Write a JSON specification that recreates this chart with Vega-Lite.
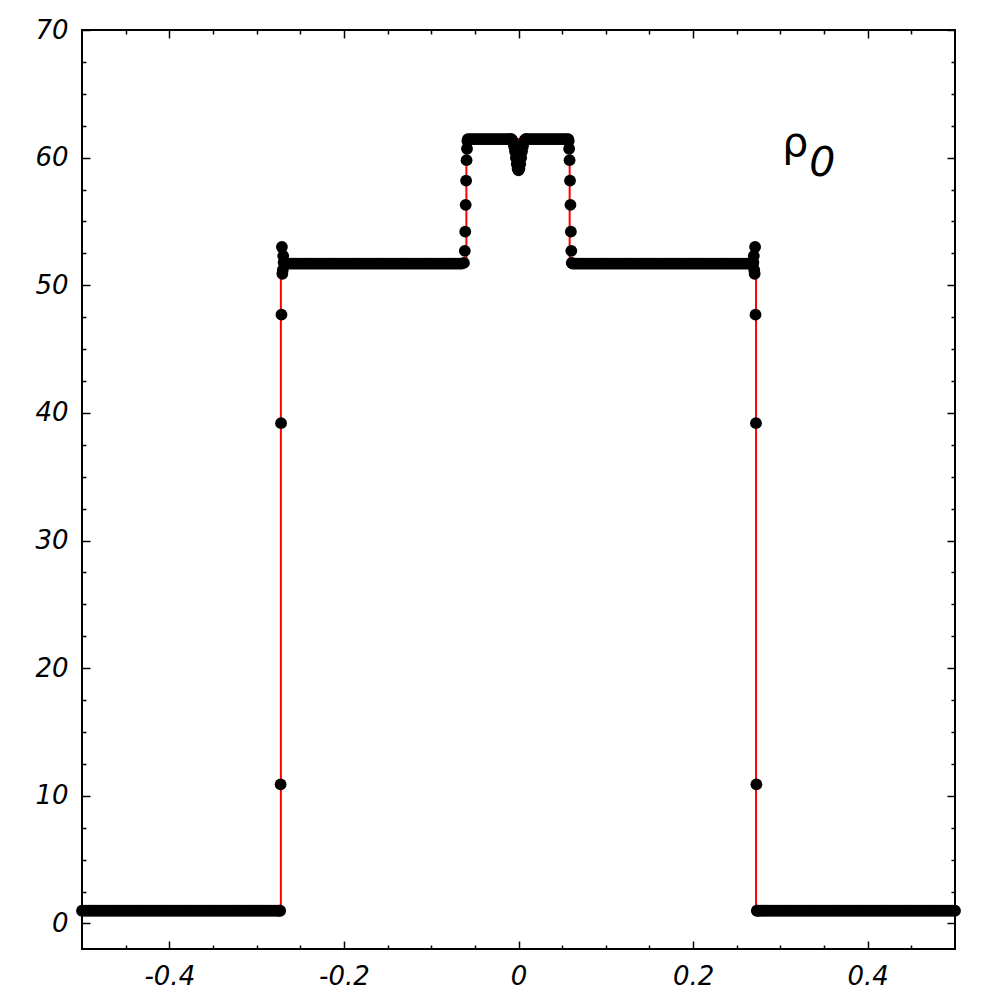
{
 "$schema": "https://vega.github.io/schema/vega-lite/v6.json",
 "width": 873,
 "height": 919,
 "autosize": {"type": "none"},
 "padding": {"left": 82, "top": 30, "right": 45, "bottom": 51},
 "config": {
  "view": {"stroke": "#000", "strokeWidth": 2},
  "axis": {"domain": false, "grid": false, "tickColor": "#000", "tickWidth": 1.5, "labelFont": "DejaVu Sans", "labelFontStyle": "italic", "labelFontSize": 26, "labelColor": "#000"}
 },
 "datasets": {
  "exact": [
   {"i": 0, "x": -0.5, "y": 1.0},
   {"i": 1, "x": -0.2722, "y": 1.0},
   {"i": 2, "x": -0.2722, "y": 51.7},
   {"i": 3, "x": -0.0597, "y": 51.7},
   {"i": 4, "x": -0.0597, "y": 61.45},
   {"i": 5, "x": 0.0586, "y": 61.45},
   {"i": 6, "x": 0.0586, "y": 51.7},
   {"i": 7, "x": 0.2721, "y": 51.7},
   {"i": 8, "x": 0.2721, "y": 1.0},
   {"i": 9, "x": 0.5, "y": 1.0}
  ],
  "numeric": [
   {"x":-0.5,"y":1},{"x":-0.4975,"y":1},{"x":-0.495,"y":1},{"x":-0.4925,"y":1},{"x":-0.49,"y":1},{"x":-0.4875,"y":1},{"x":-0.485,"y":1},{"x":-0.4825,"y":1},{"x":-0.48,"y":1},{"x":-0.4775,"y":1},
   {"x":-0.475,"y":1},{"x":-0.4725,"y":1},{"x":-0.47,"y":1},{"x":-0.4675,"y":1},{"x":-0.465,"y":1},{"x":-0.4625,"y":1},{"x":-0.46,"y":1},{"x":-0.4575,"y":1},{"x":-0.455,"y":1},{"x":-0.4525,"y":1},
   {"x":-0.45,"y":1},{"x":-0.4475,"y":1},{"x":-0.445,"y":1},{"x":-0.4425,"y":1},{"x":-0.44,"y":1},{"x":-0.4375,"y":1},{"x":-0.435,"y":1},{"x":-0.4325,"y":1},{"x":-0.43,"y":1},{"x":-0.4275,"y":1},
   {"x":-0.425,"y":1},{"x":-0.4225,"y":1},{"x":-0.42,"y":1},{"x":-0.4175,"y":1},{"x":-0.415,"y":1},{"x":-0.4125,"y":1},{"x":-0.41,"y":1},{"x":-0.4075,"y":1},{"x":-0.405,"y":1},{"x":-0.4025,"y":1},
   {"x":-0.4,"y":1},{"x":-0.3975,"y":1},{"x":-0.395,"y":1},{"x":-0.3925,"y":1},{"x":-0.39,"y":1},{"x":-0.3875,"y":1},{"x":-0.385,"y":1},{"x":-0.3825,"y":1},{"x":-0.38,"y":1},{"x":-0.3775,"y":1},
   {"x":-0.375,"y":1},{"x":-0.3725,"y":1},{"x":-0.37,"y":1},{"x":-0.3675,"y":1},{"x":-0.365,"y":1},{"x":-0.3625,"y":1},{"x":-0.36,"y":1},{"x":-0.3575,"y":1},{"x":-0.355,"y":1},{"x":-0.3525,"y":1},
   {"x":-0.35,"y":1},{"x":-0.3475,"y":1},{"x":-0.345,"y":1},{"x":-0.3425,"y":1},{"x":-0.34,"y":1},{"x":-0.3375,"y":1},{"x":-0.335,"y":1},{"x":-0.3325,"y":1},{"x":-0.33,"y":1},{"x":-0.3275,"y":1},
   {"x":-0.325,"y":1},{"x":-0.3225,"y":1},{"x":-0.32,"y":1},{"x":-0.3175,"y":1},{"x":-0.315,"y":1},{"x":-0.3125,"y":1},{"x":-0.31,"y":1},{"x":-0.3075,"y":1},{"x":-0.305,"y":1},{"x":-0.3025,"y":1},
   {"x":-0.3,"y":1},{"x":-0.2975,"y":1},{"x":-0.295,"y":1},{"x":-0.2925,"y":1},{"x":-0.29,"y":1},{"x":-0.2875,"y":1},{"x":-0.285,"y":1},{"x":-0.2825,"y":1},{"x":-0.28,"y":1},{"x":-0.2775,"y":1},
   {"x":-0.275,"y":1},{"x":-0.274,"y":1},{"x":-0.273,"y":1},
   {"x":-0.2725,"y":10.9},{"x":-0.272,"y":39.2},{"x":-0.2715,"y":47.7},{"x":-0.271,"y":53.0},
   {"x":-0.2705,"y":50.9},{"x":-0.27,"y":51.2},{"x":-0.2695,"y":52.3},{"x":-0.269,"y":51.8},
   {"x":-0.2675,"y":51.7},{"x":-0.265,"y":51.7},{"x":-0.2625,"y":51.7},{"x":-0.26,"y":51.7},{"x":-0.2575,"y":51.7},{"x":-0.255,"y":51.7},{"x":-0.2525,"y":51.7},{"x":-0.25,"y":51.7},{"x":-0.2475,"y":51.7},{"x":-0.245,"y":51.7},
   {"x":-0.2425,"y":51.7},{"x":-0.24,"y":51.7},{"x":-0.2375,"y":51.7},{"x":-0.235,"y":51.7},{"x":-0.2325,"y":51.7},{"x":-0.23,"y":51.7},{"x":-0.2275,"y":51.7},{"x":-0.225,"y":51.7},{"x":-0.2225,"y":51.7},{"x":-0.22,"y":51.7},
   {"x":-0.2175,"y":51.7},{"x":-0.215,"y":51.7},{"x":-0.2125,"y":51.7},{"x":-0.21,"y":51.7},{"x":-0.2075,"y":51.7},{"x":-0.205,"y":51.7},{"x":-0.2025,"y":51.7},{"x":-0.2,"y":51.7},{"x":-0.1975,"y":51.7},{"x":-0.195,"y":51.7},
   {"x":-0.1925,"y":51.7},{"x":-0.19,"y":51.7},{"x":-0.1875,"y":51.7},{"x":-0.185,"y":51.7},{"x":-0.1825,"y":51.7},{"x":-0.18,"y":51.7},{"x":-0.1775,"y":51.7},{"x":-0.175,"y":51.7},{"x":-0.1725,"y":51.7},{"x":-0.17,"y":51.7},
   {"x":-0.1675,"y":51.7},{"x":-0.165,"y":51.7},{"x":-0.1625,"y":51.7},{"x":-0.16,"y":51.7},{"x":-0.1575,"y":51.7},{"x":-0.155,"y":51.7},{"x":-0.1525,"y":51.7},{"x":-0.15,"y":51.7},{"x":-0.1475,"y":51.7},{"x":-0.145,"y":51.7},
   {"x":-0.1425,"y":51.7},{"x":-0.14,"y":51.7},{"x":-0.1375,"y":51.7},{"x":-0.135,"y":51.7},{"x":-0.1325,"y":51.7},{"x":-0.13,"y":51.7},{"x":-0.1275,"y":51.7},{"x":-0.125,"y":51.7},{"x":-0.1225,"y":51.7},{"x":-0.12,"y":51.7},
   {"x":-0.1175,"y":51.7},{"x":-0.115,"y":51.7},{"x":-0.1125,"y":51.7},{"x":-0.11,"y":51.7},{"x":-0.1075,"y":51.7},{"x":-0.105,"y":51.7},{"x":-0.1025,"y":51.7},{"x":-0.1,"y":51.7},{"x":-0.0975,"y":51.7},{"x":-0.095,"y":51.7},
   {"x":-0.0925,"y":51.7},{"x":-0.09,"y":51.7},{"x":-0.0875,"y":51.7},{"x":-0.085,"y":51.7},{"x":-0.0825,"y":51.7},{"x":-0.08,"y":51.7},{"x":-0.0775,"y":51.7},{"x":-0.075,"y":51.7},{"x":-0.0725,"y":51.7},{"x":-0.07,"y":51.7},
   {"x":-0.0675,"y":51.7},{"x":-0.065,"y":51.7},{"x":-0.0625,"y":51.75},
   {"x":-0.0615,"y":52.7},{"x":-0.061,"y":54.2},{"x":-0.0605,"y":56.3},{"x":-0.06,"y":58.2},
   {"x":-0.0595,"y":59.8},{"x":-0.059,"y":60.7},{"x":-0.0585,"y":61.3},
   {"x":-0.058,"y":61.45},{"x":-0.0555,"y":61.45},{"x":-0.053,"y":61.45},{"x":-0.0505,"y":61.45},{"x":-0.048,"y":61.45},{"x":-0.0455,"y":61.45},{"x":-0.043,"y":61.45},
   {"x":-0.0405,"y":61.45},{"x":-0.038,"y":61.45},{"x":-0.0355,"y":61.45},{"x":-0.033,"y":61.45},{"x":-0.0305,"y":61.45},{"x":-0.028,"y":61.45},{"x":-0.0255,"y":61.45},
   {"x":-0.023,"y":61.45},{"x":-0.0205,"y":61.45},{"x":-0.018,"y":61.45},{"x":-0.0155,"y":61.45},{"x":-0.013,"y":61.45},{"x":-0.0105,"y":61.45},
   {"x":-0.009,"y":61.45},{"x":-0.008,"y":61.45},{"x":-0.007,"y":61.35},{"x":-0.006,"y":61.2},{"x":-0.005,"y":60.9},{"x":-0.004,"y":60.5},{"x":-0.003,"y":60.0},
   {"x":-0.002,"y":59.5},{"x":-0.001,"y":59.15},{"x":0.0,"y":59.0},{"x":0.001,"y":59.15},{"x":0.002,"y":59.5},
   {"x":0.003,"y":60.0},{"x":0.004,"y":60.5},{"x":0.005,"y":60.9},{"x":0.006,"y":61.2},{"x":0.007,"y":61.35},{"x":0.008,"y":61.45},{"x":0.009,"y":61.45},
   {"x":0.0105,"y":61.45},{"x":0.013,"y":61.45},{"x":0.0155,"y":61.45},{"x":0.018,"y":61.45},{"x":0.0205,"y":61.45},{"x":0.023,"y":61.45},
   {"x":0.0255,"y":61.45},{"x":0.028,"y":61.45},{"x":0.0305,"y":61.45},{"x":0.033,"y":61.45},{"x":0.0355,"y":61.45},{"x":0.038,"y":61.45},{"x":0.0405,"y":61.45},
   {"x":0.043,"y":61.45},{"x":0.0455,"y":61.45},{"x":0.048,"y":61.45},{"x":0.0505,"y":61.45},{"x":0.053,"y":61.45},{"x":0.0555,"y":61.45},{"x":0.057,"y":61.45},
   {"x":0.0575,"y":61.3},{"x":0.058,"y":60.7},{"x":0.0585,"y":59.8},{"x":0.059,"y":58.2},
   {"x":0.0595,"y":56.3},{"x":0.06,"y":54.2},{"x":0.0605,"y":52.7},{"x":0.061,"y":51.75},
   {"x":0.062,"y":51.7},{"x":0.0645,"y":51.7},{"x":0.067,"y":51.7},{"x":0.0695,"y":51.7},{"x":0.072,"y":51.7},{"x":0.0745,"y":51.7},{"x":0.077,"y":51.7},{"x":0.0795,"y":51.7},{"x":0.082,"y":51.7},{"x":0.0845,"y":51.7},
   {"x":0.087,"y":51.7},{"x":0.0895,"y":51.7},{"x":0.092,"y":51.7},{"x":0.0945,"y":51.7},{"x":0.097,"y":51.7},{"x":0.0995,"y":51.7},{"x":0.102,"y":51.7},{"x":0.1045,"y":51.7},{"x":0.107,"y":51.7},{"x":0.1095,"y":51.7},
   {"x":0.112,"y":51.7},{"x":0.1145,"y":51.7},{"x":0.117,"y":51.7},{"x":0.1195,"y":51.7},{"x":0.122,"y":51.7},{"x":0.1245,"y":51.7},{"x":0.127,"y":51.7},{"x":0.1295,"y":51.7},{"x":0.132,"y":51.7},{"x":0.1345,"y":51.7},
   {"x":0.137,"y":51.7},{"x":0.1395,"y":51.7},{"x":0.142,"y":51.7},{"x":0.1445,"y":51.7},{"x":0.147,"y":51.7},{"x":0.1495,"y":51.7},{"x":0.152,"y":51.7},{"x":0.1545,"y":51.7},{"x":0.157,"y":51.7},{"x":0.1595,"y":51.7},
   {"x":0.162,"y":51.7},{"x":0.1645,"y":51.7},{"x":0.167,"y":51.7},{"x":0.1695,"y":51.7},{"x":0.172,"y":51.7},{"x":0.1745,"y":51.7},{"x":0.177,"y":51.7},{"x":0.1795,"y":51.7},{"x":0.182,"y":51.7},{"x":0.1845,"y":51.7},
   {"x":0.187,"y":51.7},{"x":0.1895,"y":51.7},{"x":0.192,"y":51.7},{"x":0.1945,"y":51.7},{"x":0.197,"y":51.7},{"x":0.1995,"y":51.7},{"x":0.202,"y":51.7},{"x":0.2045,"y":51.7},{"x":0.207,"y":51.7},{"x":0.2095,"y":51.7},
   {"x":0.212,"y":51.7},{"x":0.2145,"y":51.7},{"x":0.217,"y":51.7},{"x":0.2195,"y":51.7},{"x":0.222,"y":51.7},{"x":0.2245,"y":51.7},{"x":0.227,"y":51.7},{"x":0.2295,"y":51.7},{"x":0.232,"y":51.7},{"x":0.2345,"y":51.7},
   {"x":0.237,"y":51.7},{"x":0.2395,"y":51.7},{"x":0.242,"y":51.7},{"x":0.2445,"y":51.7},{"x":0.247,"y":51.7},{"x":0.2495,"y":51.7},{"x":0.252,"y":51.7},{"x":0.2545,"y":51.7},{"x":0.257,"y":51.7},{"x":0.2595,"y":51.7},
   {"x":0.262,"y":51.7},{"x":0.2645,"y":51.7},{"x":0.267,"y":51.7},{"x":0.2685,"y":51.7},
   {"x":0.269,"y":51.8},{"x":0.2695,"y":52.3},{"x":0.27,"y":51.2},{"x":0.2705,"y":50.9},{"x":0.271,"y":53.0},
   {"x":0.2715,"y":47.7},{"x":0.272,"y":39.2},{"x":0.2725,"y":10.9},{"x":0.273,"y":1},
   {"x":0.274,"y":1},{"x":0.275,"y":1},{"x":0.2775,"y":1},{"x":0.28,"y":1},{"x":0.2825,"y":1},{"x":0.285,"y":1},{"x":0.2875,"y":1},{"x":0.29,"y":1},{"x":0.2925,"y":1},{"x":0.295,"y":1},{"x":0.2975,"y":1},
   {"x":0.3,"y":1},{"x":0.3025,"y":1},{"x":0.305,"y":1},{"x":0.3075,"y":1},{"x":0.31,"y":1},{"x":0.3125,"y":1},{"x":0.315,"y":1},{"x":0.3175,"y":1},{"x":0.32,"y":1},{"x":0.3225,"y":1},
   {"x":0.325,"y":1},{"x":0.3275,"y":1},{"x":0.33,"y":1},{"x":0.3325,"y":1},{"x":0.335,"y":1},{"x":0.3375,"y":1},{"x":0.34,"y":1},{"x":0.3425,"y":1},{"x":0.345,"y":1},{"x":0.3475,"y":1},
   {"x":0.35,"y":1},{"x":0.3525,"y":1},{"x":0.355,"y":1},{"x":0.3575,"y":1},{"x":0.36,"y":1},{"x":0.3625,"y":1},{"x":0.365,"y":1},{"x":0.3675,"y":1},{"x":0.37,"y":1},{"x":0.3725,"y":1},
   {"x":0.375,"y":1},{"x":0.3775,"y":1},{"x":0.38,"y":1},{"x":0.3825,"y":1},{"x":0.385,"y":1},{"x":0.3875,"y":1},{"x":0.39,"y":1},{"x":0.3925,"y":1},{"x":0.395,"y":1},{"x":0.3975,"y":1},
   {"x":0.4,"y":1},{"x":0.4025,"y":1},{"x":0.405,"y":1},{"x":0.4075,"y":1},{"x":0.41,"y":1},{"x":0.4125,"y":1},{"x":0.415,"y":1},{"x":0.4175,"y":1},{"x":0.42,"y":1},{"x":0.4225,"y":1},
   {"x":0.425,"y":1},{"x":0.4275,"y":1},{"x":0.43,"y":1},{"x":0.4325,"y":1},{"x":0.435,"y":1},{"x":0.4375,"y":1},{"x":0.44,"y":1},{"x":0.4425,"y":1},{"x":0.445,"y":1},{"x":0.4475,"y":1},
   {"x":0.45,"y":1},{"x":0.4525,"y":1},{"x":0.455,"y":1},{"x":0.4575,"y":1},{"x":0.46,"y":1},{"x":0.4625,"y":1},{"x":0.465,"y":1},{"x":0.4675,"y":1},{"x":0.47,"y":1},{"x":0.4725,"y":1},
   {"x":0.475,"y":1},{"x":0.4775,"y":1},{"x":0.48,"y":1},{"x":0.4825,"y":1},{"x":0.485,"y":1},{"x":0.4875,"y":1},{"x":0.49,"y":1},{"x":0.4925,"y":1},{"x":0.495,"y":1},{"x":0.4975,"y":1},
   {"x":0.5,"y":1}
  ],
  "symbol": [{"label": "ρ", "x": 0.302, "y": 60.1}],
  "subscript": [{"label": "0", "x": 0.333, "y": 58.6}]
 },
 "layer": [
  {
   "data": {"name": "exact"},
   "mark": {"type": "line", "color": "#ff0000", "strokeWidth": 2},
   "encoding": {
    "x": {"field": "x", "type": "quantitative", "title": null,
          "scale": {"domain": [-0.5, 0.5], "nice": false, "zero": false},
          "axis": {"orient": "bottom", "values": [-0.4, -0.2, 0, 0.2, 0.4], "tickSize": -8, "labelPadding": 22,
                   "labelExpr": "replace(format(datum.value, '.1~f'), '−', '-')"}},
    "y": {"field": "y", "type": "quantitative", "title": null,
          "scale": {"domain": [-2, 70], "nice": false, "zero": false},
          "axis": {"orient": "left", "values": [0, 10, 20, 30, 40, 50, 60, 70], "tickSize": -8, "labelPadding": 22}},
    "order": {"field": "i", "type": "quantitative"}
   }
  },
  {
   "data": {"name": "numeric"},
   "mark": {"type": "point", "shape": "circle", "filled": true, "color": "#000", "opacity": 1, "size": 140},
   "encoding": {
    "x": {"field": "x", "type": "quantitative", "title": null,
          "scale": {"domain": [-0.5, 0.5], "nice": false, "zero": false},
          "axis": {"orient": "bottom", "values": [-0.45, -0.35, -0.3, -0.25, -0.15, -0.1, -0.05, 0.05, 0.1, 0.15, 0.25, 0.3, 0.35, 0.45], "tickSize": -4, "labels": false}},
    "y": {"field": "y", "type": "quantitative", "title": null,
          "scale": {"domain": [-2, 70], "nice": false, "zero": false},
          "axis": {"orient": "left", "values": [2.5, 5, 7.5, 12.5, 15, 17.5, 22.5, 25, 27.5, 32.5, 35, 37.5, 42.5, 45, 47.5, 52.5, 55, 57.5, 62.5, 65, 67.5], "tickSize": -4, "labels": false}}
   }
  },
  {
   "data": {"name": "symbol"},
   "mark": {"type": "text", "font": "DejaVu Sans", "fontSize": 41, "align": "left", "baseline": "alphabetic", "color": "#000"},
   "encoding": {
    "x": {"field": "x", "type": "quantitative", "title": null,
          "scale": {"domain": [-0.5, 0.5], "nice": false, "zero": false},
          "axis": {"orient": "top", "values": [-0.4, -0.2, 0, 0.2, 0.4], "tickSize": -8, "labels": false}},
    "y": {"field": "y", "type": "quantitative", "title": null,
          "scale": {"domain": [-2, 70], "nice": false, "zero": false},
          "axis": {"orient": "right", "values": [0, 10, 20, 30, 40, 50, 60, 70], "tickSize": -8, "labels": false}},
    "text": {"field": "label"}
   }
  },
  {
   "data": {"name": "subscript"},
   "mark": {"type": "text", "font": "DejaVu Sans", "fontSize": 41, "fontStyle": "italic", "align": "left", "baseline": "alphabetic", "color": "#000"},
   "encoding": {
    "x": {"field": "x", "type": "quantitative", "title": null,
          "scale": {"domain": [-0.5, 0.5], "nice": false, "zero": false},
          "axis": {"orient": "top", "values": [-0.45, -0.35, -0.3, -0.25, -0.15, -0.1, -0.05, 0.05, 0.1, 0.15, 0.25, 0.3, 0.35, 0.45], "tickSize": -4, "labels": false}},
    "y": {"field": "y", "type": "quantitative", "title": null,
          "scale": {"domain": [-2, 70], "nice": false, "zero": false},
          "axis": {"orient": "right", "values": [2.5, 5, 7.5, 12.5, 15, 17.5, 22.5, 25, 27.5, 32.5, 35, 37.5, 42.5, 45, 47.5, 52.5, 55, 57.5, 62.5, 65, 67.5], "tickSize": -4, "labels": false}},
    "text": {"field": "label"}
   }
  }
 ],
 "resolve": {"axis": {"x": "independent", "y": "independent"}}
}
